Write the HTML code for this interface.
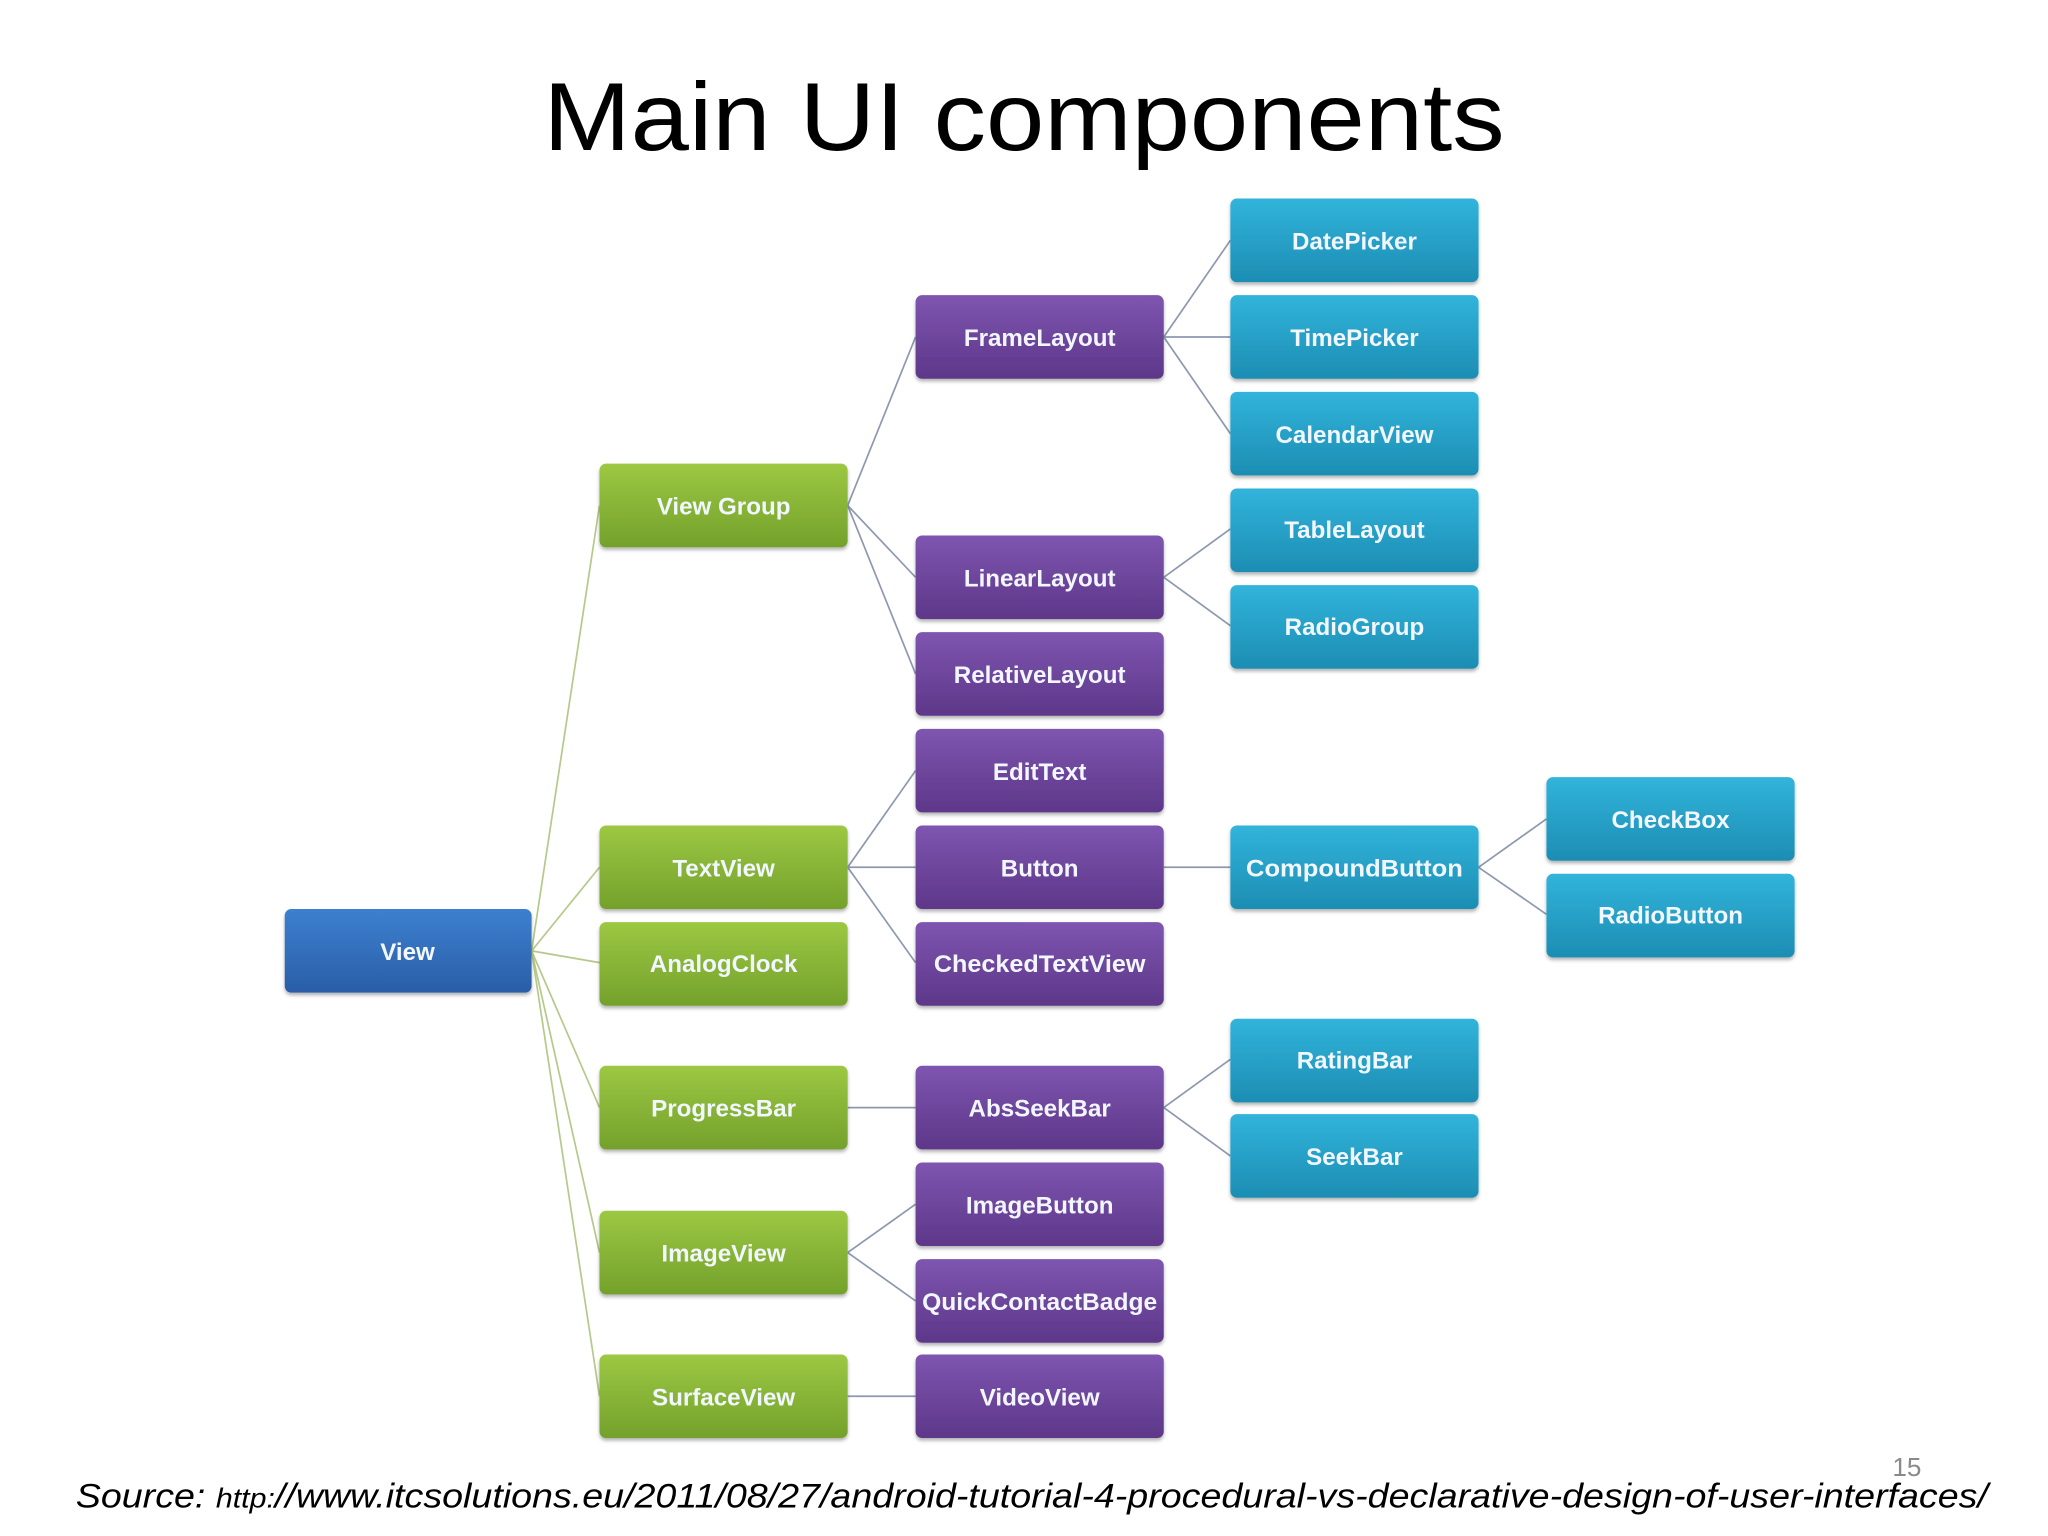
<!DOCTYPE html>
<html><head><meta charset="utf-8"><style>
html,body{margin:0;padding:0;background:#fff;}
svg{display:block;}
</style></head><body>
<svg width="2048" height="1536" viewBox="0 0 1568 1176" xmlns="http://www.w3.org/2000/svg">
<defs>
<linearGradient id="gG" x1="0" y1="0" x2="0" y2="1"><stop offset="0" stop-color="#9cc843"/><stop offset="1" stop-color="#74a12b"/></linearGradient>
<linearGradient id="gP" x1="0" y1="0" x2="0" y2="1"><stop offset="0" stop-color="#7e55b0"/><stop offset="1" stop-color="#5d3789"/></linearGradient>
<linearGradient id="gC" x1="0" y1="0" x2="0" y2="1"><stop offset="0" stop-color="#31b4db"/><stop offset="1" stop-color="#1d8db3"/></linearGradient>
<linearGradient id="gB" x1="0" y1="0" x2="0" y2="1"><stop offset="0" stop-color="#3c80cf"/><stop offset="1" stop-color="#2a5ea7"/></linearGradient>
<filter id="sh" x="-10%" y="-10%" width="120%" height="130%"><feDropShadow dx="0" dy="2" stdDeviation="1.5" flood-color="#000" flood-opacity="0.3"/></filter>
</defs>
<rect width="1568" height="1176" fill="#fff"/>
<text x="784" y="115" text-anchor="middle" font-family="Liberation Sans, sans-serif" font-size="74" textLength="736" lengthAdjust="spacingAndGlyphs" fill="#000">Main UI components</text>

<g stroke="#b5c98a" stroke-width="1.3" fill="none">
<line x1="407" y1="728" x2="459" y2="387"/>
<line x1="407" y1="728" x2="459" y2="664"/>
<line x1="407" y1="728" x2="459" y2="737"/>
<line x1="407" y1="728" x2="459" y2="848"/>
<line x1="407" y1="728" x2="459" y2="959"/>
<line x1="407" y1="728" x2="459" y2="1069"/>
</g>
<g stroke="#8d98b0" stroke-width="1.3" fill="none">
<line x1="649" y1="387" x2="701" y2="258"/>
<line x1="649" y1="387" x2="701" y2="442"/>
<line x1="649" y1="387" x2="701" y2="516"/>
<line x1="891" y1="258" x2="942" y2="184"/>
<line x1="891" y1="258" x2="942" y2="258"/>
<line x1="891" y1="258" x2="942" y2="332"/>
<line x1="891" y1="442" x2="942" y2="405"/>
<line x1="891" y1="442" x2="942" y2="479"/>
<line x1="649" y1="664" x2="701" y2="590"/>
<line x1="649" y1="664" x2="701" y2="664"/>
<line x1="649" y1="664" x2="701" y2="737"/>
<line x1="891" y1="664" x2="942" y2="664"/>
<line x1="1132" y1="664" x2="1184" y2="627"/>
<line x1="1132" y1="664" x2="1184" y2="700"/>
<line x1="649" y1="848" x2="701" y2="848"/>
<line x1="891" y1="848" x2="942" y2="811"/>
<line x1="891" y1="848" x2="942" y2="885"/>
<line x1="649" y1="959" x2="701" y2="922"/>
<line x1="649" y1="959" x2="701" y2="996"/>
<line x1="649" y1="1069" x2="701" y2="1069"/>
</g>

<g font-family="Liberation Sans, sans-serif" font-weight="bold" font-size="18.5" fill="#f2f6ff" text-anchor="middle">
<g filter="url(#sh)">
<rect x="218" y="696" width="189" height="64" rx="5" fill="url(#gB)"/>
<rect x="459" y="355" width="190" height="64" rx="5" fill="url(#gG)"/>
<rect x="459" y="632" width="190" height="64" rx="5" fill="url(#gG)"/>
<rect x="459" y="706" width="190" height="64" rx="5" fill="url(#gG)"/>
<rect x="459" y="816" width="190" height="64" rx="5" fill="url(#gG)"/>
<rect x="459" y="927" width="190" height="64" rx="5" fill="url(#gG)"/>
<rect x="459" y="1037" width="190" height="64" rx="5" fill="url(#gG)"/>
<rect x="701" y="226" width="190" height="64" rx="5" fill="url(#gP)"/>
<rect x="701" y="410" width="190" height="64" rx="5" fill="url(#gP)"/>
<rect x="701" y="484" width="190" height="64" rx="5" fill="url(#gP)"/>
<rect x="701" y="558" width="190" height="64" rx="5" fill="url(#gP)"/>
<rect x="701" y="632" width="190" height="64" rx="5" fill="url(#gP)"/>
<rect x="701" y="706" width="190" height="64" rx="5" fill="url(#gP)"/>
<rect x="701" y="816" width="190" height="64" rx="5" fill="url(#gP)"/>
<rect x="701" y="890" width="190" height="64" rx="5" fill="url(#gP)"/>
<rect x="701" y="964" width="190" height="64" rx="5" fill="url(#gP)"/>
<rect x="701" y="1037" width="190" height="64" rx="5" fill="url(#gP)"/>
<rect x="942" y="152" width="190" height="64" rx="5" fill="url(#gC)"/>
<rect x="942" y="226" width="190" height="64" rx="5" fill="url(#gC)"/>
<rect x="942" y="300" width="190" height="64" rx="5" fill="url(#gC)"/>
<rect x="942" y="374" width="190" height="64" rx="5" fill="url(#gC)"/>
<rect x="942" y="448" width="190" height="64" rx="5" fill="url(#gC)"/>
<rect x="942" y="632" width="190" height="64" rx="5" fill="url(#gC)"/>
<rect x="942" y="780" width="190" height="64" rx="5" fill="url(#gC)"/>
<rect x="942" y="853" width="190" height="64" rx="5" fill="url(#gC)"/>
<rect x="1184" y="595" width="190" height="64" rx="5" fill="url(#gC)"/>
<rect x="1184" y="669" width="190" height="64" rx="5" fill="url(#gC)"/>
</g>
<text x="312" y="735">View</text>
<text x="554" y="394">View Group</text>
<text x="554" y="671">TextView</text>
<text x="554" y="744">AnalogClock</text>
<text x="554" y="855">ProgressBar</text>
<text x="554" y="966">ImageView</text>
<text x="554" y="1076">SurfaceView</text>
<text x="796" y="265">FrameLayout</text>
<text x="796" y="449">LinearLayout</text>
<text x="796" y="523">RelativeLayout</text>
<text x="796" y="597">EditText</text>
<text x="796" y="671">Button</text>
<text x="796" y="744" textLength="162" lengthAdjust="spacingAndGlyphs">CheckedTextView</text>
<text x="796" y="855">AbsSeekBar</text>
<text x="796" y="929">ImageButton</text>
<text x="796" y="1003" textLength="180" lengthAdjust="spacingAndGlyphs">QuickContactBadge</text>
<text x="796" y="1076">VideoView</text>
<text x="1037" y="191">DatePicker</text>
<text x="1037" y="265">TimePicker</text>
<text x="1037" y="339">CalendarView</text>
<text x="1037" y="412">TableLayout</text>
<text x="1037" y="486">RadioGroup</text>
<text x="1037" y="671" textLength="166" lengthAdjust="spacingAndGlyphs">CompoundButton</text>
<text x="1037" y="818">RatingBar</text>
<text x="1037" y="892">SeekBar</text>
<text x="1279" y="634">CheckBox</text>
<text x="1279" y="707">RadioButton</text>
</g>

<text x="1460" y="1130" text-anchor="middle" font-family="Liberation Sans, sans-serif" font-size="20" fill="#8a8a8a">15</text>
<text x="58" y="1154" font-family="Liberation Sans, sans-serif" font-style="italic" font-size="26" fill="#000" textLength="1464" lengthAdjust="spacingAndGlyphs">Source: <tspan font-size="21">http:</tspan>//www.itcsolutions.eu/2011/08/27/android-tutorial-4-procedural-vs-declarative-design-of-user-interfaces/</text>
</svg>
</body></html>
